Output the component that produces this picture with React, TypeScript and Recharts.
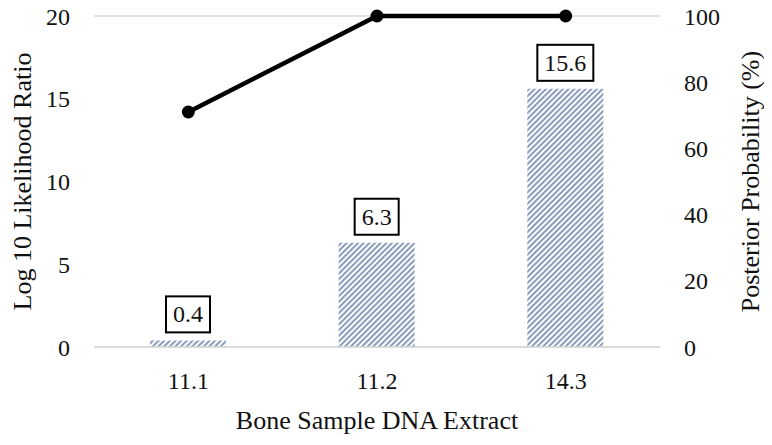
import { ComposedChart, Bar, Line, XAxis, YAxis, CartesianGrid, LabelList } from 'recharts';

const extracts = ['11.1', '11.2', '14.3'];
const log10LR = [0.4, 6.3, 15.6];
const posterior = [71, 100, 100];
const leftTicks = [0, 5, 10, 15, 20];
const rightTicks = [0, 20, 40, 60, 80, 100];

const data = extracts.map((name, i) => ({ name, lr: log10LR[i], post: posterior[i] }));

const FONT = '"Liberation Serif", "Times New Roman", serif';
const TEXT = '#111111';
const GRID = '#D9D9D9';

// rough width of a number string in the serif font
const textWidth = (s: string, size: number) =>
  s.split('').reduce((w, c) => w + (c === '.' ? 0.25 : 0.5), 0) * size;

const BoxLabel = (props: any) => {
  const { x, y, width, value } = props;
  const label = Number(value).toFixed(1);
  const w = textWidth(label, 24) + 14;
  const h = 36;
  const cx = x + width / 2;
  const bottom = y - 8;
  return (
    <g>
      <rect x={cx - w / 2} y={bottom - h} width={w} height={h} fill="#fff" stroke="#000" strokeWidth={2} />
      <text x={cx} y={bottom - h / 2 + 8} textAnchor="middle" fontSize={24} fontFamily={FONT} fill={TEXT}>
        {label}
      </text>
    </g>
  );
};

export default function App() {
  return (
    <div style={{ marginLeft: -8, marginTop: -8, background: '#fff', width: 772, height: 445, fontFamily: FONT }}>
      <style>{`.recharts-wrapper text, .recharts-wrapper tspan { font-family: ${FONT} !important; }`}</style>
      <ComposedChart
        width={772}
        height={445}
        data={data}
        margin={{ top: 16, right: 10, bottom: 8, left: 10 }}
      >
        <defs>
          <pattern id="hatch" width="4" height="4" patternUnits="userSpaceOnUse" patternTransform="rotate(45)">
            <rect width="4" height="4" fill="#fff" />
            <line x1="1" y1="0" x2="1" y2="4" stroke="#8A9DBB" strokeWidth={2.1} />
          </pattern>
        </defs>
        <CartesianGrid vertical={false} stroke={GRID} strokeWidth={1.5} />
        <XAxis
          dataKey="name"
          height={90}
          tickLine={false}
          tickSize={0}
          tickMargin={25}
          axisLine={{ stroke: GRID, strokeWidth: 1.5 }}
          tick={{ fill: TEXT, fontSize: 24, fontFamily: FONT }}
          label={{ value: 'Bone Sample DNA Extract', position: 'insideBottom', offset: 8, fill: TEXT, fontSize: 26 }}
        />
        <YAxis
          yAxisId="left"
          width={84}
          domain={[0, 20]}
          ticks={leftTicks}
          tickLine={false}
          axisLine={false}
          tickSize={0}
          tickMargin={24}
          tick={{ fill: TEXT, fontSize: 24, fontFamily: FONT }}
          label={{
            value: 'Log 10 Likelihood Ratio',
            angle: -90,
            position: 'insideLeft',
            offset: 12,
            fill: TEXT,
            fontSize: 26,
            style: { textAnchor: 'middle' },
          }}
        />
        <YAxis
          yAxisId="right"
          orientation="right"
          width={102}
          domain={[0, 100]}
          ticks={rightTicks}
          tickLine={false}
          axisLine={false}
          tickSize={0}
          tickMargin={24}
          tick={{ fill: TEXT, fontSize: 24, fontFamily: FONT }}
          label={{
            value: 'Posterior Probability (%)',
            angle: -90,
            position: 'insideRight',
            offset: 12,
            fill: TEXT,
            fontSize: 26,
            style: { textAnchor: 'middle' },
          }}
        />
        <Bar yAxisId="left" dataKey="lr" barSize={76} fill="url(#hatch)" isAnimationActive={false}>
          <LabelList dataKey="lr" content={BoxLabel} />
        </Bar>
        <Line
          yAxisId="right"
          dataKey="post"
          stroke="#000"
          strokeWidth={4.5}
          dot={{ r: 6.5, fill: '#000', stroke: '#000', strokeWidth: 0 }}
          activeDot={false}
          isAnimationActive={false}
        />
      </ComposedChart>
    </div>
  );
}
